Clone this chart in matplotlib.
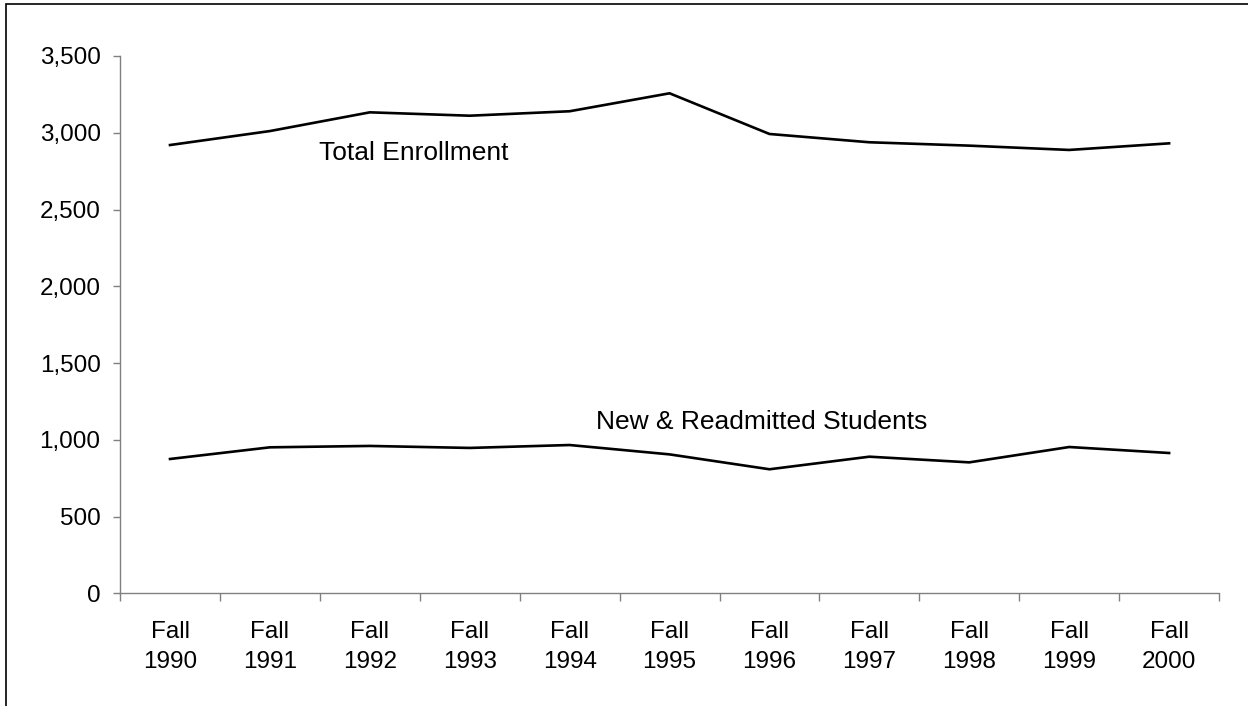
import matplotlib
matplotlib.use('Agg')
import matplotlib.pyplot as plt
from matplotlib.patches import Rectangle

plt.rcParams['font.family'] = ['Liberation Sans', 'DejaVu Sans']

years = ['Fall\n1990', 'Fall\n1991', 'Fall\n1992', 'Fall\n1993', 'Fall\n1994', 'Fall\n1995',
         'Fall\n1996', 'Fall\n1997', 'Fall\n1998', 'Fall\n1999', 'Fall\n2000']
total_enrollment = [2920, 3011, 3133, 3111, 3140, 3257, 2992, 2938, 2916, 2888, 2931]
new_readmitted = [875, 951, 960, 947, 966, 905, 808, 890, 853, 953, 914]

fig = plt.figure(figsize=(12.48, 7.06), dpi=100)
ax = fig.add_axes([0.0962, 0.1596, 0.8806, 0.7611])

x = list(range(len(years)))
ax.plot(x, total_enrollment, color='black', lw=1.9)
ax.plot(x, new_readmitted, color='black', lw=1.9)

ax.text(2.44, 2868, 'Total Enrollment', fontsize=19, ha='center', va='center')
ax.text(5.92, 1116, 'New & Readmitted Students', fontsize=19, ha='center', va='center')

ax.set_xlim(-0.5, len(years) - 0.5)
ax.set_ylim(0, 3500)
ax.set_yticks(range(0, 3501, 500))
ax.set_yticklabels([f'{v:,}' for v in range(0, 3501, 500)])

# category boundaries get tick marks, labels sit in between
ax.set_xticks([i - 0.5 for i in range(len(years) + 1)])
ax.set_xticklabels([])
ax.set_xticks(x, minor=True)
ax.set_xticklabels(years, minor=True, linespacing=1.45)

for s in ['top', 'right']:
    ax.spines[s].set_visible(False)
for s in ['left', 'bottom']:
    ax.spines[s].set_color('#808080')
    ax.spines[s].set_linewidth(1.0)

ax.tick_params(axis='y', which='major', direction='out', length=5, width=1,
               color='#808080', labelsize=17.5, pad=9)
ax.tick_params(axis='x', which='major', direction='out', length=6, width=1, color='#808080')
ax.tick_params(axis='x', which='minor', length=0, labelsize=17.5, pad=20)

# outer frame (only the left and top sides are inside the picture)
fig.add_artist(Rectangle((6 / 1248, -0.5), 2, 1.5 - 4 / 706, transform=fig.transFigure,
                         fill=False, edgecolor='black', lw=1.2))

fig.savefig('out.png', dpi=100)
